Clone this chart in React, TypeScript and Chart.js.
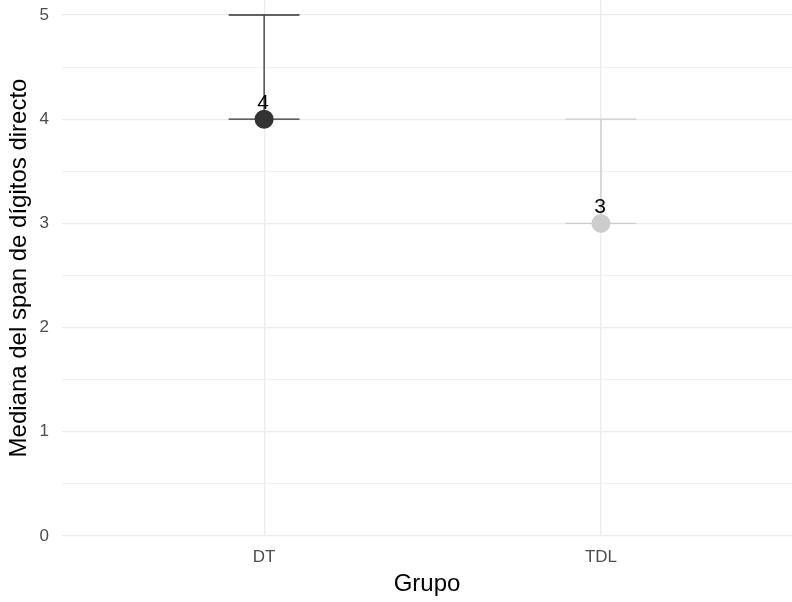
import { useEffect, useRef } from "react";
import { Chart, registerables } from "chart.js";

Chart.register(...registerables);

// Digit span medians per group, with the interval drawn as an error bar
const groups = ["DT", "TDL"];
const medians = [4, 3];
const lowerLimits = [4, 3];
const upperLimits = [5, 4];
const groupColors = ["#333333", "#CCCCCC"];
const yTicks = [0, 0.5, 1, 1.5, 2, 2.5, 3, 3.5, 4, 4.5, 5];

const FONT = "'Liberation Sans', Arial, Helvetica, sans-serif";
const CAP_HALF = 0.105; // half width of the error bar caps, in x units

const errorBarPlugin = {
  id: "errorBars",
  beforeDatasetsDraw(chart: any) {
    const { ctx, scales } = chart;
    const x = scales.x;
    const y = scales.y;
    ctx.save();
    groups.forEach((_, i) => {
      const cx = x.getPixelForValue(i + 1);
      const half = x.getPixelForValue(i + 1 + CAP_HALF) - cx;
      const yl = y.getPixelForValue(lowerLimits[i]);
      const yu = y.getPixelForValue(upperLimits[i]);
      ctx.strokeStyle = groupColors[i];
      ctx.lineWidth = 1.3;
      ctx.beginPath();
      ctx.moveTo(cx, yl);
      ctx.lineTo(cx, yu);
      ctx.moveTo(cx - half, yl);
      ctx.lineTo(cx + half, yl);
      ctx.moveTo(cx - half, yu);
      ctx.lineTo(cx + half, yu);
      ctx.stroke();
    });
    ctx.restore();
  },
  afterDatasetsDraw(chart: any) {
    const { ctx, scales } = chart;
    const x = scales.x;
    const y = scales.y;
    ctx.save();
    ctx.fillStyle = "#000000";
    ctx.font = `21px ${FONT}`;
    ctx.textAlign = "center";
    ctx.textBaseline = "alphabetic";
    medians.forEach((m, i) => {
      ctx.fillText(String(m), x.getPixelForValue(i + 1) - 1, y.getPixelForValue(m) - 10);
    });
    ctx.restore();
  },
};

export default function App() {
  const canvasRef = useRef<HTMLCanvasElement | null>(null);

  useEffect(() => {
    document.body.style.margin = "0";
    const canvas = canvasRef.current;
    if (!canvas) return;
    const chart = new Chart(canvas, {
      type: "scatter",
      data: {
        datasets: [
          {
            data: medians.map((m, i) => ({ x: i + 1, y: m })),
            backgroundColor: groupColors,
            pointBackgroundColor: groupColors,
            pointBorderWidth: 0,
            pointRadius: 9.5,
            clip: false as any,
          },
        ],
      },
      options: {
        animation: false,
        responsive: false,
        layout: { padding: 0, autoPadding: false },
        plugins: {
          legend: { display: false },
          tooltip: { enabled: false },
        },
        scales: {
          x: {
            type: "linear",
            min: 0.4,
            max: 2.567,
            afterBuildTicks: (s: any) => {
              s.ticks = groups.map((_, i) => ({ value: i + 1 }));
            },
            afterFit: (s: any) => {
              s.height = 66;
              s.paddingLeft = 0;
              s.paddingRight = 0;
            },
            border: { display: false },
            grid: { color: "#EBEBEB", lineWidth: 1.2, drawTicks: false },
            ticks: {
              padding: 11,
              color: "#4D4D4D",
              font: { family: FONT, size: 17 },
              callback: (v: any) => groups[Number(v) - 1] ?? "",
            },
            title: {
              display: true,
              text: "Grupo",
              color: "#000000",
              font: { family: FONT, size: 24 },
              padding: { top: 0, bottom: 3 },
            },
          },
          y: {
            type: "linear",
            min: 0,
            max: 5.144,
            afterBuildTicks: (s: any) => {
              s.ticks = yTicks.map((v) => ({ value: v }));
            },
            afterFit: (s: any) => {
              s.width = 62;
              s.paddingTop = 0;
              s.paddingBottom = 0;
            },
            border: { display: false },
            grid: {
              color: "#EBEBEB",
              lineWidth: (c: any) => (Number.isInteger(c.tick?.value) ? 1.2 : 0.7),
              drawTicks: false,
            },
            ticks: {
              padding: 13,
              color: "#4D4D4D",
              font: { family: FONT, size: 17 },
              callback: (v: any) => (Number.isInteger(Number(v)) ? String(v) : ""),
            },
            title: {
              display: true,
              text: "Mediana del span de dígitos directo",
              color: "#000000",
              font: { family: FONT, size: 24 },
              padding: { top: 5, bottom: 0 },
            },
          },
        },
      },
      plugins: [errorBarPlugin],
    });
    return () => chart.destroy();
  }, []);

  return (
    <div style={{ width: 792, height: 602 }}>
      <canvas ref={canvasRef} width={792} height={602} />
    </div>
  );
}
